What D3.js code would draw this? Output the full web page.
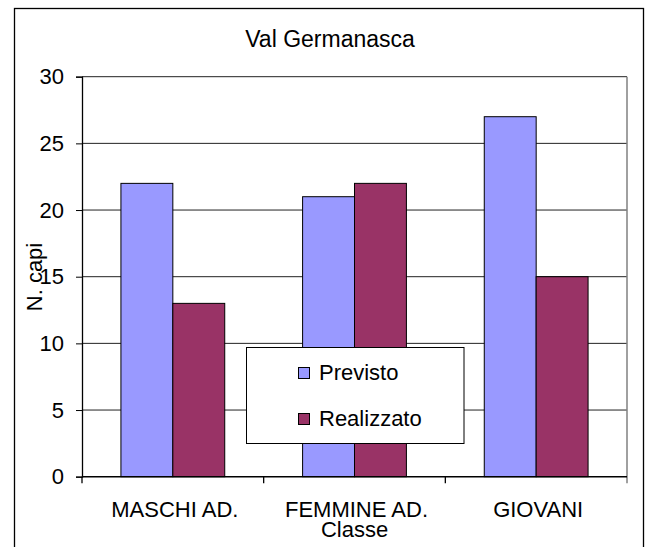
<!DOCTYPE html>
<html>
<head>
    <style>
        body { margin: 0; background: #fff; }
        text { font-family: "Liberation Sans", Arial, sans-serif; fill: #000; }
    </style>
    <script src="https://d3js.org/d3.v7.min.js"></script>
</head>
<body>
    <div id="chart"></div>

    <script>
        var categories = ["MASCHI AD.", "FEMMINE AD.", "GIOVANI"];
        var seriesNames = ["Previsto", "Realizzato"];
        var previsto = [22, 21, 27];
        var realizzato = [13, 22, 15];
        var yTicks = [0, 5, 10, 15, 20, 25, 30];
        var colors = ["#9999FF", "#993366"];

        var width = 650, height = 547;
        var plotLeft = 82, plotRight = 627, plotTop = 76.7, plotBottom = 476.7;

        var svg = d3.select("#chart")
                    .append("svg")
                    .attr("width", width)
                    .attr("height", height);

        // outer chart border (bottom edge runs off the picture)
        svg.append("rect")
            .attr("x", 14.5).attr("y", 8.5)
            .attr("width", 629).attr("height", 550)
            .attr("fill", "white")
            .attr("stroke", "black")
            .attr("stroke-width", 1.3);

        var x0 = d3.scaleBand()
            .domain(categories)
            .range([plotLeft, plotRight])
            .padding(0);

        var x1 = d3.scaleBand()
            .domain(seriesNames)
            .range([0, x0.bandwidth()])
            .paddingInner(0)
            .paddingOuter(0.75);

        var y = d3.scaleLinear()
            .domain([0, 30])
            .range([plotBottom, plotTop]);

        // gridlines
        svg.append("g")
            .selectAll("line")
            .data(yTicks.filter(function(d) { return d > 0; }))
            .enter()
            .append("line")
            .attr("x1", plotLeft).attr("x2", plotRight)
            .attr("y1", function(d) { return y(d); })
            .attr("y2", function(d) { return y(d); })
            .attr("stroke", "#222")
            .attr("stroke-width", 1);

        // plot area right border
        svg.append("line")
            .attr("x1", plotRight).attr("x2", plotRight)
            .attr("y1", plotTop).attr("y2", plotBottom + 6.5)
            .attr("stroke", "#808080")
            .attr("stroke-width", 1.5);

        // bars
        var rows = categories.map(function(c, i) {
            return { cat: c, values: [previsto[i], realizzato[i]] };
        });

        var group = svg.selectAll(".cat")
            .data(rows)
            .enter()
            .append("g")
            .attr("class", "cat")
            .attr("transform", function(d) { return "translate(" + x0(d.cat) + ",0)"; });

        group.selectAll("rect")
            .data(function(d) {
                return d.values.map(function(v, j) { return { s: seriesNames[j], v: v, j: j }; });
            })
            .enter()
            .append("rect")
            .attr("x", function(d) { return x1(d.s); })
            .attr("y", function(d) { return y(d.v); })
            .attr("width", x1.bandwidth())
            .attr("height", function(d) { return plotBottom - y(d.v); })
            .attr("fill", function(d) { return colors[d.j]; })
            .attr("stroke", "black")
            .attr("stroke-width", 1);

        // y axis
        var yAxis = d3.axisLeft(y)
            .tickValues(yTicks)
            .tickSize(6)
            .tickPadding(12);

        var gy = svg.append("g")
            .attr("transform", "translate(" + plotLeft + ",0)")
            .call(yAxis);
        gy.select(".domain").attr("stroke", "black").attr("stroke-width", 1.3);
        gy.selectAll(".tick line").attr("stroke", "black");
        gy.selectAll(".tick text")
            .style("font-family", "'Liberation Sans', Arial, sans-serif")
            .style("font-size", "22px")
            .attr("fill", "black");

        // x axis line and boundary ticks
        svg.append("line")
            .attr("x1", plotLeft).attr("x2", plotRight)
            .attr("y1", plotBottom).attr("y2", plotBottom)
            .attr("stroke", "black")
            .attr("stroke-width", 1.5);

        var bounds = categories.map(function(c) { return x0(c); });
        svg.append("g")
            .selectAll("line")
            .data(bounds)
            .enter()
            .append("line")
            .attr("x1", function(d) { return d; })
            .attr("x2", function(d) { return d; })
            .attr("y1", plotBottom).attr("y2", plotBottom + 6.5)
            .attr("stroke", "black")
            .attr("stroke-width", 1.3);

        svg.append("g")
            .selectAll("text")
            .data(categories)
            .enter()
            .append("text")
            .attr("x", function(d) { return x0(d) + x0.bandwidth() / 2 + 2; })
            .attr("y", 517)
            .attr("text-anchor", "middle")
            .style("font-size", "22px")
            .text(function(d) { return d; });

        // titles
        svg.append("text")
            .attr("x", 330).attr("y", 46.5)
            .attr("text-anchor", "middle")
            .style("font-size", "23px")
            .text("Val Germanasca");

        svg.append("text")
            .attr("x", (plotLeft + plotRight) / 2).attr("y", 537)
            .attr("text-anchor", "middle")
            .style("font-size", "22px")
            .text("Classe");

        svg.append("text")
            .attr("transform", "translate(41.5," + 277 + ") rotate(-90)")
            .attr("text-anchor", "middle")
            .style("font-size", "22px")
            .text("N. capi");

        // legend
        var legend = svg.append("g");
        legend.append("rect")
            .attr("x", 246.5).attr("y", 347.5)
            .attr("width", 217.5).attr("height", 96)
            .attr("fill", "white")
            .attr("stroke", "black")
            .attr("stroke-width", 1);

        var items = legend.selectAll(".item")
            .data(seriesNames)
            .enter()
            .append("g")
            .attr("class", "item")
            .attr("transform", function(d, i) { return "translate(0," + (i * 46) + ")"; });

        items.append("rect")
            .attr("x", 298.5).attr("y", 367.5)
            .attr("width", 11).attr("height", 11)
            .attr("fill", function(d, i) { return colors[i]; })
            .attr("stroke", "black")
            .attr("stroke-width", 1);

        items.append("text")
            .attr("x", 319).attr("y", 380)
            .style("font-size", "22px")
            .text(function(d) { return d; });
    </script>
</body>
</html>
